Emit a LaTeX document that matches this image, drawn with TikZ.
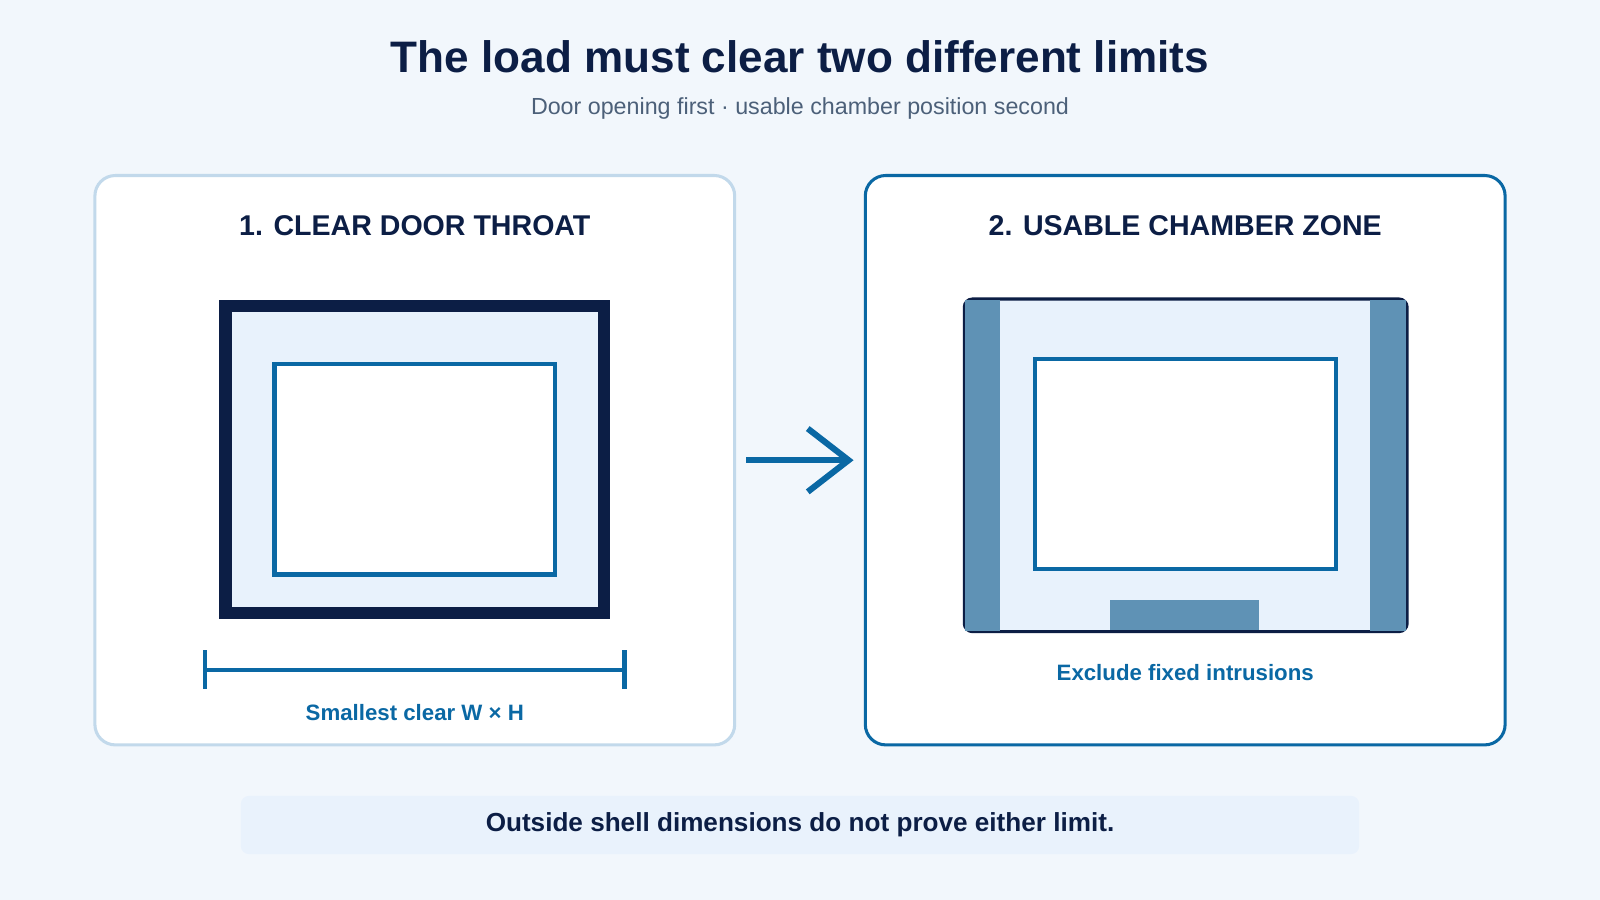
\documentclass[tikz,border=0pt]{standalone}
\usepackage{fontspec}
\setmainfont{Liberation Sans}
\usetikzlibrary{arrows.meta,positioning}
\definecolor{bgc}{HTML}{F2F7FC}
\definecolor{navy}{HTML}{0C1E45}
\definecolor{accent}{HTML}{0A68A4}
\definecolor{pale}{HTML}{E8F2FC}
\definecolor{edge}{HTML}{C2D9EB}
\definecolor{steel}{HTML}{5F92B5}
\definecolor{muted}{HTML}{4C6079}
\tikzset{
panel/.style={draw,rounded corners=10pt,fill=white,line width=1.5pt,minimum width=313.5pt,minimum height=279pt,inner sep=0pt},
head/.style={font=\bfseries\fontsize{14}{16}\selectfont,text=navy},
note/.style={font=\bfseries\fontsize{10.9}{13}\selectfont,text=accent},
}
\begin{document}
\begin{tikzpicture}[x=0.5pt,y=-0.5pt]
\useasboundingbox[fill=bgc](0,0)rectangle(1568,882);
\node[font=\bfseries\fontsize{21.6}{25}\selectfont,text=navy](title)at(784,56){The load must clear two different limits};
\node[font=\fontsize{11.4}{13}\selectfont,text=muted](sub)at(784,106){Door opening first · usable chamber position second};
% panels
\node[panel,draw=edge](lp)at(406.5,451){};
\node[panel,draw=accent](rp)at(1161.5,451){};
\node[head](lh)at(406.5,221){1. CLEAR DOOR THROAT};
\node[head](rh)at(1161.5,221){2. USABLE CHAMBER ZONE};
\draw[accent,line width=3pt,-{Straight Barb[length=20pt,width=31pt]},shorten <=5pt,shorten >=5pt](lp)--(rp);
% door throat
\draw[navy,fill=pale,line width=6pt](221,300)rectangle(592,601);
\draw[accent,fill=white,line width=2pt](269,357)rectangle(544,563);
\coordinate(dl)at(201,657);
\coordinate(dr)at(612,657);
\draw[accent,line width=2pt](dl)--(dr) (201,637)--(201,675) (612,637)--(612,675);
\node[note](dn)at(406.5,698){Smallest clear W × H};
% chamber
\draw[navy,fill=pale,line width=1.5pt,rounded corners=4pt](945,293)rectangle(1379,619);
\fill[steel](946,294)rectangle(980,618);
\fill[steel](1343,294)rectangle(1378,618);
\fill[steel](1088,588)rectangle(1234,617);
\draw[accent,fill=white,line width=2pt](1014,352)rectangle(1309,558);
\node[note](cn)at(1161.5,659){Exclude fixed intrusions};
% footer
\node[fill=pale!90!bgc,rounded corners=4pt,minimum width=548pt,minimum height=28.5pt,font=\bfseries\fontsize{12.8}{15}\selectfont,text=navy](foot)at(784,808.5){Outside shell dimensions do not prove either limit.};
\end{tikzpicture}
\end{document}
